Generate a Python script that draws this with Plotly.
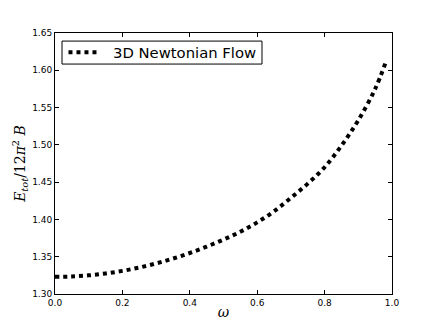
import plotly.graph_objects as go

# energy vs omega
omega = [0.0, 0.05, 0.1, 0.15, 0.2, 0.25, 0.3, 0.35, 0.4, 0.45, 0.5, 0.55,
         0.6, 0.65, 0.7, 0.75, 0.8, 0.85, 0.9, 0.95, 0.98]
energy = [1.323, 1.3235, 1.325, 1.3275, 1.331, 1.3355, 1.341, 1.3475, 1.355,
          1.3635, 1.373, 1.3835, 1.396, 1.411, 1.429, 1.448, 1.470, 1.499,
          1.533, 1.575, 1.609]

x_ticks = [0.0, 0.2, 0.4, 0.6, 0.8, 1.0]
y_ticks = [1.30, 1.35, 1.40, 1.45, 1.50, 1.55, 1.60, 1.65]
legend_label = '3D Newtonian Flow'

fig = go.Figure()
fig.add_trace(go.Scatter(x=omega, y=energy, mode='lines', name=legend_label, showlegend=False,
                         line=dict(color='black', width=4, dash='dot', shape='spline')))

axis_common = dict(showgrid=False, zeroline=False, showline=True, linecolor='black',
                   linewidth=1, mirror='ticks', ticks='inside', ticklen=4, automargin=False,
                   tickcolor='black', tickfont=dict(family='DejaVu Sans', size=9, color='black'))

fig.update_xaxes(range=[0, 1], tickvals=x_ticks, ticktext=[f'{v:.1f}' for v in x_ticks],
                 title=dict(text='<i>ω</i>', standoff=0,
                            font=dict(family='DejaVu Serif', size=14, color='black')),
                 **axis_common)
fig.update_yaxes(range=[1.30, 1.65], tickvals=y_ticks, ticktext=[f'{v:.2f}' for v in y_ticks],
                 title=dict(text='<i>E</i><sub><i>tot</i></sub>/12<i>π</i><sup>2</sup> <i>B</i>',
                            standoff=3, font=dict(family='DejaVu Serif', size=14, color='black')),
                 **axis_common)

# matplotlib-style legend box drawn by hand (plotly's own legend is too tall)
fig.add_shape(type='rect', xref='paper', yref='paper', x0=0.0208, x1=0.6142, y0=0.881, y1=0.969,
              line=dict(color='black', width=1), fillcolor='white', layer='above')
fig.add_shape(type='line', xref='paper', yref='paper', x0=0.040, x1=0.134, y0=0.926, y1=0.926,
              line=dict(color='black', width=4, dash='dot'), layer='above')
fig.add_annotation(text=legend_label, xref='paper', yref='paper', x=0.166, y=0.926,
                   xanchor='left', yanchor='middle', showarrow=False,
                   font=dict(family='DejaVu Sans', size=14.8, color='black'))

# page body adds 8px offset, so shrink the figure to keep the axes where they belong
fig.update_layout(width=428, height=319, margin=dict(l=47, r=44, t=25, b=33),
                  plot_bgcolor='white', paper_bgcolor='white')

fig.write_html("out.html")
